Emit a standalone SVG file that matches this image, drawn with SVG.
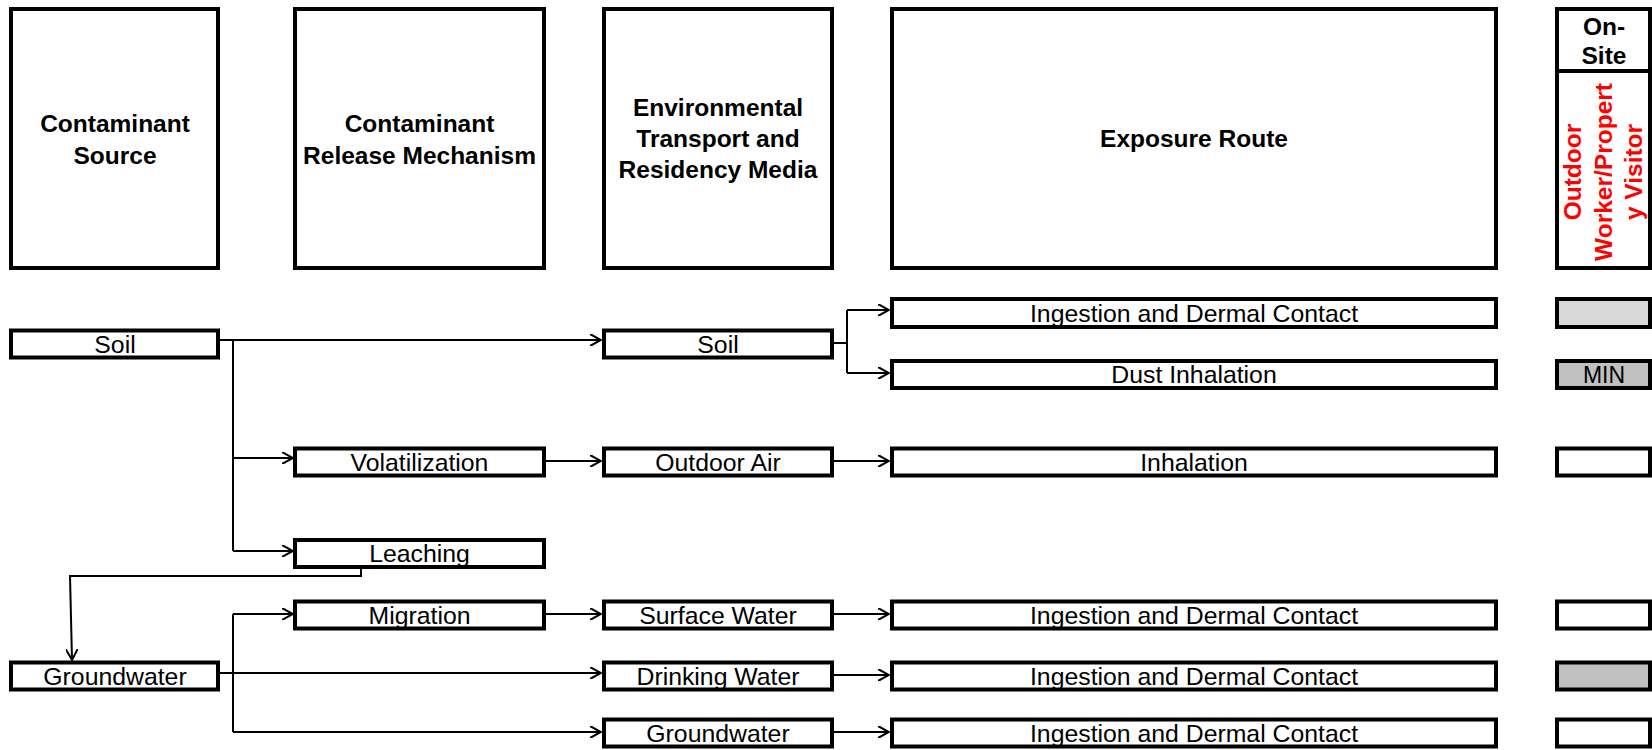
<svg xmlns="http://www.w3.org/2000/svg" width="1652" height="750" viewBox="0 0 1652 750">
<style>
.box{fill:#fff;stroke:#000;stroke-width:4}
.g1{fill:#d9d9d9}
.g2{fill:#c0c0c0}
.hd{font-family:"Liberation Sans",Arial,sans-serif;font-weight:bold;font-size:24.5px;text-anchor:middle;fill:#000}
.tx{font-family:"Liberation Sans",Arial,sans-serif;font-size:24.8px;text-anchor:middle;fill:#000}
.rd{font-family:"Liberation Sans",Arial,sans-serif;font-weight:bold;font-size:24.5px;text-anchor:middle;fill:#ff0000}
.cn{fill:none;stroke:#000;stroke-width:2}
.ar{marker-end:url(#arr)}
</style>
<defs>
<marker id="arr" viewBox="0 0 12 12" refX="11" refY="6" markerWidth="12" markerHeight="12" markerUnits="userSpaceOnUse" orient="auto">
<path d="M0,0 L11,6 L0,12" fill="none" stroke="#000" stroke-width="2"/>
</marker>
</defs>

<g id="hdr-source"><rect class="box" x="11" y="9" width="207" height="259"/><text class="hd" x="115" y="132">Contaminant</text><text class="hd" x="115" y="164">Source</text></g>
<g id="hdr-release"><rect class="box" x="295" y="9" width="249" height="259"/><text class="hd" x="419.5" y="132">Contaminant</text><text class="hd" x="419.5" y="164">Release Mechanism</text></g>
<g id="hdr-media"><rect class="box" x="604" y="9" width="228" height="259"/><text class="hd" x="718" y="116">Environmental</text><text class="hd" x="718" y="147">Transport and</text><text class="hd" x="718" y="178">Residency Media</text></g>
<g id="hdr-route"><rect class="box" x="892" y="9" width="604" height="259"/><text class="hd" x="1194" y="147">Exposure Route</text></g>
<g id="hdr-receptor"><rect class="box" x="1557" y="9" width="93" height="259"/><line x1="1557" y1="71" x2="1650" y2="71" stroke="#000" stroke-width="4"/><text class="hd" x="1604" y="35">On-</text><text class="hd" x="1604" y="64">Site</text>
<g transform="translate(1604,172) rotate(-90)"><text class="rd" x="0" y="-23">Outdoor</text><text class="rd" x="0" y="8">Worker/Propert</text><text class="rd" x="0" y="38">y Visitor</text></g></g>

<g id="src-soil"><rect class="box" x="11" y="330.5" width="207" height="27"/><text class="tx" x="115" y="352.5">Soil</text></g>
<g id="media-soil"><rect class="box" x="604" y="330.5" width="228" height="27"/><text class="tx" x="718" y="352.5">Soil</text></g>
<g id="route-ingest1"><rect class="box" x="892" y="299" width="604" height="28"/><text class="tx" x="1194" y="321.5">Ingestion and Dermal Contact</text></g>
<g id="rec-1"><rect class="box g1" x="1557" y="299" width="93" height="28"/></g>
<g id="route-dust"><rect class="box" x="892" y="361" width="604" height="27"/><text class="tx" x="1194" y="383">Dust Inhalation</text></g>
<g id="rec-2"><rect class="box g2" x="1557" y="361" width="93" height="27"/><text class="tx" x="1604" y="383" style="font-size:23px">MIN</text></g>

<g id="rel-vol"><rect class="box" x="295" y="448.5" width="249" height="27"/><text class="tx" x="419.5" y="470.5">Volatilization</text></g>
<g id="media-air"><rect class="box" x="604" y="448.5" width="228" height="27"/><text class="tx" x="718" y="470.5">Outdoor Air</text></g>
<g id="route-inh"><rect class="box" x="892" y="448.5" width="604" height="27"/><text class="tx" x="1194" y="470.5">Inhalation</text></g>
<g id="rec-3"><rect class="box" x="1557" y="448.5" width="93" height="27"/></g>

<g id="rel-leach"><rect class="box" x="295" y="540" width="249" height="27"/><text class="tx" x="419.5" y="562">Leaching</text></g>

<g id="rel-mig"><rect class="box" x="295" y="601.5" width="249" height="27"/><text class="tx" x="419.5" y="623.5">Migration</text></g>
<g id="media-sw"><rect class="box" x="604" y="601.5" width="228" height="27"/><text class="tx" x="718" y="623.5">Surface Water</text></g>
<g id="route-ingest2"><rect class="box" x="892" y="601.5" width="604" height="27"/><text class="tx" x="1194" y="623.5">Ingestion and Dermal Contact</text></g>
<g id="rec-4"><rect class="box" x="1557" y="601.5" width="93" height="27"/></g>

<g id="src-gw"><rect class="box" x="11" y="662.5" width="207" height="27"/><text class="tx" x="115" y="684.5">Groundwater</text></g>
<g id="media-dw"><rect class="box" x="604" y="662.5" width="228" height="27"/><text class="tx" x="718" y="684.5">Drinking Water</text></g>
<g id="route-ingest3"><rect class="box" x="892" y="662.5" width="604" height="27"/><text class="tx" x="1194" y="684.5">Ingestion and Dermal Contact</text></g>
<g id="rec-5"><rect class="box g2" x="1557" y="662.5" width="93" height="27"/></g>

<g id="media-gw"><rect class="box" x="604" y="719.5" width="228" height="27"/><text class="tx" x="718" y="741.5">Groundwater</text></g>
<g id="route-ingest4"><rect class="box" x="892" y="719.5" width="604" height="27"/><text class="tx" x="1194" y="741.5">Ingestion and Dermal Contact</text></g>
<g id="rec-6"><rect class="box" x="1557" y="719.5" width="93" height="27"/></g>

<g id="connectors">
<path class="cn ar" d="M220,340 H601"/>
<path class="cn" d="M233,340 V551"/>
<path class="cn ar" d="M233,458 H293"/>
<path class="cn ar" d="M233,551 H293"/>
<path class="cn ar" d="M546,461 H601"/>
<path class="cn ar" d="M834,461 H889"/>
<path class="cn" d="M834,343 H847 M847,310 V373"/>
<path class="cn ar" d="M847,310 H889"/>
<path class="cn ar" d="M847,373 H889"/>
<path class="cn ar" d="M361,569 V576 H70 L72,660"/>
<path class="cn ar" d="M220,673 H601"/>
<path class="cn" d="M233,614 V732"/>
<path class="cn ar" d="M233,614 H293"/>
<path class="cn ar" d="M233,732 H601"/>
<path class="cn ar" d="M546,614 H601"/>
<path class="cn ar" d="M834,614 H889"/>
<path class="cn ar" d="M834,675 H889"/>
<path class="cn ar" d="M834,732 H889"/>
</g>
</svg>
